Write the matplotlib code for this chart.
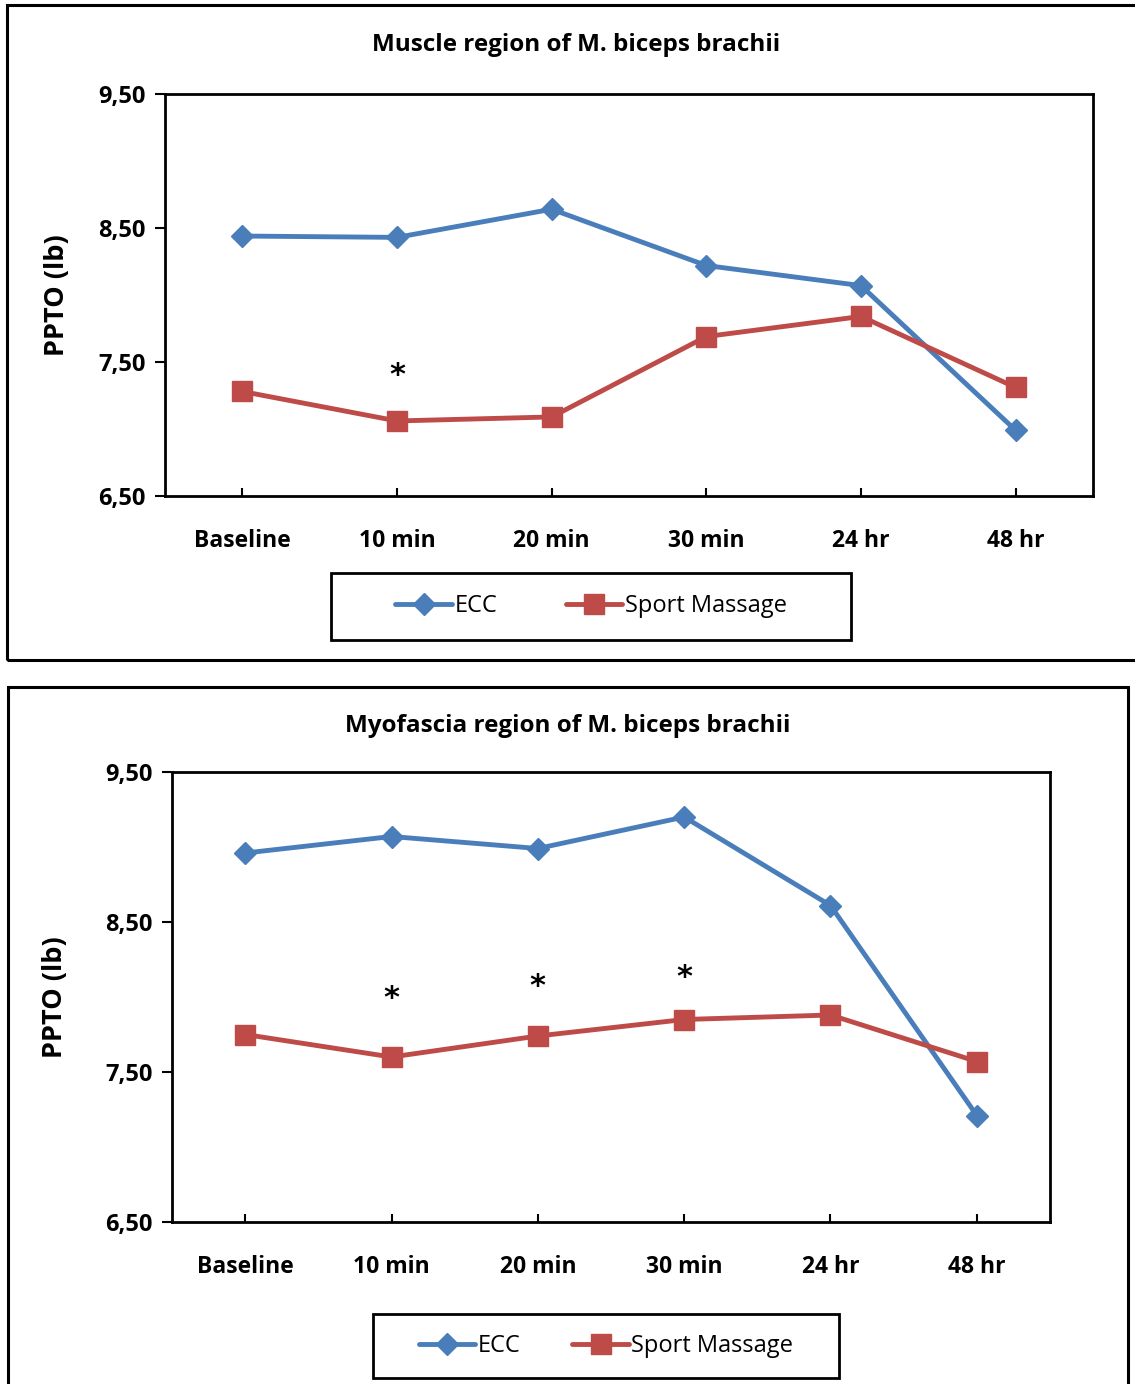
import matplotlib
matplotlib.use("Agg")
import matplotlib.pyplot as plt
from matplotlib.patches import Rectangle

plt.rcParams['font.family'] = ['Open Sans', 'DejaVu Sans']

categories = ["Baseline", "10 min", "20 min", "30 min", "24 hr", "48 hr"]
yticks = [6.5, 7.5, 8.5, 9.5]
ytick_labels = ["6,50", "7,50", "8,50", "9,50"]

muscle_ecc = [8.44, 8.43, 8.64, 8.22, 8.07, 6.99]
muscle_sm = [7.28, 7.06, 7.09, 7.69, 7.84, 7.31]
muscle_star_idx = [1]
muscle_star_y = [7.40]

fascia_ecc = [8.96, 9.07, 8.99, 9.20, 8.61, 7.21]
fascia_sm = [7.75, 7.60, 7.74, 7.85, 7.88, 7.57]
fascia_star_idx = [1, 2, 3]
fascia_star_y = [7.99, 8.07, 8.13]

W, H = 1135, 1384
fig = plt.figure(figsize=(W / 100, H / 100), dpi=100)

BLUE = "#4a7ebb"
RED = "#be4b48"


def fx(px):
    return px / W


def fy(py):
    return 1 - py / H


def panel(box, ax_px, title, title_x, title_y, ecc, sm, star_idx, star_y, leg_px, ylab_x, colsp):
    x0, y0, x1, y1 = box
    fig.add_artist(Rectangle((fx(x0), fy(y1)), fx(x1) - fx(x0), fy(y0) - fy(y1),
                             transform=fig.transFigure, fill=False,
                             edgecolor="black", linewidth=2.2, clip_on=False))
    ax0, ay0, ax1, ay1 = ax_px
    ax = fig.add_axes([fx(ax0), fy(ay1), fx(ax1) - fx(ax0), fy(ay0) - fy(ay1)])
    x = list(range(len(categories)))
    ax.plot(x, ecc, color=BLUE, linewidth=3.5, marker="D", markersize=11,
            label="ECC", solid_capstyle="round")
    ax.plot(x, sm, color=RED, linewidth=3.5, marker="s", markersize=14,
            label="Sport Massage", solid_capstyle="round")
    for i, yv in zip(star_idx, star_y):
        ax.text(i, yv, "*", ha="center", va="center", fontsize=22,
                fontweight="bold", family="DejaVu Sans")
    ax.set_xlim(-0.5, len(categories) - 0.5)
    ax.set_ylim(6.5, 9.5)
    ax.set_yticks(yticks)
    ax.set_yticklabels(ytick_labels, fontsize=17, fontweight="bold")
    ax.set_xticks(x)
    ax.set_xticklabels(categories, fontsize=16.5, fontweight="bold")
    ax.tick_params(axis="y", direction="out", length=7, width=1.5, pad=7)
    ax.tick_params(axis="x", direction="in", length=6, width=1.5, pad=24)
    for s in ax.spines.values():
        s.set_linewidth(2)
    ax.set_ylabel("PPTO (lb)", fontsize=19.5, fontweight="bold")
    ax.yaxis.set_label_coords(fx(ylab_x - ax0) / (fx(ax1) - fx(ax0)), 0.5)
    fig.text(fx(title_x), fy(title_y), title, ha="center",
             va="center", fontsize=17.5, fontweight="bold")
    lx0, ly0, lx1, ly1 = leg_px
    ax.legend(loc="center", bbox_to_anchor=(fx(lx0), fy(ly1), fx(lx1) - fx(lx0), fy(ly0) - fy(ly1)),
              bbox_transform=fig.transFigure, ncol=2,
              fontsize=17, frameon=False,
              columnspacing=colsp, handlelength=2.4,
              handletextpad=0.1, markerscale=1.0)
    fig.add_artist(Rectangle((fx(lx0), fy(ly1)), fx(lx1) - fx(lx0), fy(ly0) - fy(ly1),
                             transform=fig.transFigure, fill=False,
                             edgecolor="black", linewidth=2, clip_on=False))
    return ax


panel((7, 5, 1145, 660), (165, 94, 1093, 496), "Muscle region of M. biceps brachii", 576, 45,
      muscle_ecc, muscle_sm, muscle_star_idx, muscle_star_y, (331, 573, 851, 640), 70, 2.9)
panel((8, 687, 1128, 1395), (172, 772, 1050, 1222), "Myofascia region of M. biceps brachii", 568, 726,
      fascia_ecc, fascia_sm, fascia_star_idx, fascia_star_y, (373, 1314, 839, 1378), 68, 2.2)

fig.savefig("out.png", dpi=100)
